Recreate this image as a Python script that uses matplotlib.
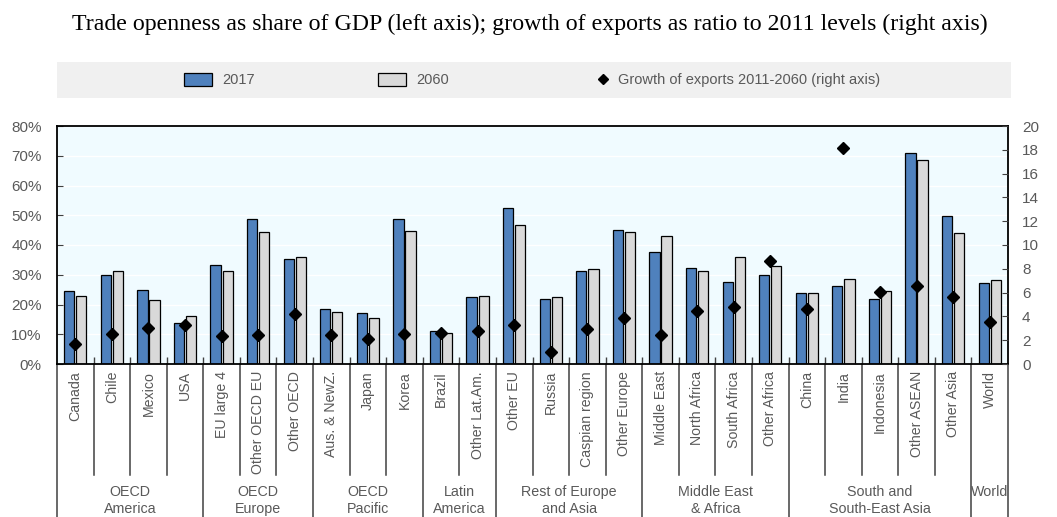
import numpy as np
import matplotlib
matplotlib.use("Agg")
import matplotlib.pyplot as plt
import matplotlib.transforms as mtransforms
from matplotlib.patches import Rectangle, Patch
from matplotlib.lines import Line2D

plt.rcParams['font.family'] = ['Liberation Sans Narrow', 'Liberation Sans', 'DejaVu Sans']

# Data
categories = ["Canada", "Chile", "Mexico", "USA",
              "EU large 4", "Other OECD EU", "Other OECD",
              "Aus. & NewZ.", "Japan", "Korea",
              "Brazil", "Other Lat.Am.",
              "Other EU", "Russia", "Caspian region", "Other Europe",
              "Middle East", "North Africa", "South Africa", "Other Africa",
              "China", "India", "Indonesia", "Other ASEAN", "Other Asia",
              "World"]
open_2017 = [24.4, 30.0, 24.9, 13.9,
             33.4, 48.6, 35.4,
             18.6, 17.2, 48.6,
             11.0, 22.4,
             52.5, 22.0, 31.1, 45.2,
             37.7, 32.4, 27.7, 30.0,
             23.9, 26.3, 22.0, 70.9, 49.6,
             27.2]
open_2060 = [22.9, 31.4, 21.5, 16.3,
             31.1, 44.3, 35.8,
             17.6, 15.3, 44.8,
             10.5, 22.9,
             46.8, 22.4, 32.0, 44.3,
             43.0, 31.1, 35.8, 32.9,
             23.9, 28.6, 24.4, 68.7, 43.9,
             28.2]
export_growth = [1.7, 2.55, 3.0, 3.25,
                 2.33, 2.44, 4.2,
                 2.44, 2.08, 2.55,
                 2.58, 2.8,
                 3.25, 1.0, 2.92, 3.87,
                 2.44, 4.49, 4.82, 8.64,
                 4.6, 18.15, 6.03, 6.59, 5.64,
                 3.51]
groups = ["OECD\nAmerica", "OECD\nEurope", "OECD\nPacific", "Latin\nAmerica",
          "Rest of Europe\nand Asia", "Middle East\n& Africa",
          "South and\nSouth-East Asia", "World"]
group_sizes = [4, 3, 3, 2, 4, 4, 5, 1]

TEXT = '#595959'
LINE = '#404040'

fig = plt.figure(figsize=(10.57, 5.17), dpi=100)
ax = fig.add_axes([57 / 1057, 153 / 517, 951 / 1057, 238 / 517])
ax.set_facecolor('#F0FBFF')

x = np.arange(len(categories))
w = 0.28
ax.bar(x - 0.165, open_2017, width=w, color='#4F81BD', edgecolor='black', linewidth=0.9, zorder=2)
ax.bar(x + 0.165, open_2060, width=w, color='#D9D9D9', edgecolor='black', linewidth=0.9, zorder=2)

ax.set_xlim(-0.5, len(categories) - 0.5)
ax.set_ylim(0, 80)
ax.set_yticks(np.arange(0, 81, 10))
ax.set_yticklabels([f"{v}%" for v in range(0, 81, 10)])
ax.yaxis.grid(True, color='white', lw=1.0)
ax.set_axisbelow(True)

ax.set_xticks(x)
ax.set_xticklabels(categories, rotation=90, color=TEXT, fontsize=10.2)
ax.tick_params(axis='x', which='major', length=0, pad=5)
bounds = np.arange(0.5, len(categories) - 0.5, 1.0)
ax.set_xticks(bounds, minor=True)
ax.tick_params(axis='x', which='minor', direction='in', length=5, color=LINE, width=1)
ax.tick_params(axis='y', direction='in', length=4, color=LINE, labelcolor=TEXT,
               labelsize=11, pad=11)
for s in ax.spines.values():
    s.set_linewidth(1.3)
    s.set_color('black')

ax2 = ax.twinx()
ax2.plot(x, export_growth, linestyle='none', marker='D', ms=6.5, color='black', zorder=5)
ax2.set_ylim(0, 20)
ax2.set_yticks(np.arange(0, 21, 2))
ax2.tick_params(axis='y', direction='in', length=4, color=LINE, labelcolor=TEXT,
                labelsize=11, pad=10)
for s in ax2.spines.values():
    s.set_visible(False)

# separators and group labels below the axis
trans = mtransforms.blended_transform_factory(ax.transData, ax.transAxes)
edges = np.concatenate([[0], np.cumsum(group_sizes)]) - 0.5
for b in bounds:
    if not np.any(np.isclose(edges, b)):
        ax.plot([b, b], [0, -0.466], transform=trans, clip_on=False, color=LINE, lw=1.1)
for b in edges:
    ax.plot([b, b], [0, -0.70], transform=trans, clip_on=False, color=LINE, lw=1.1)
for g, a, b in zip(groups, edges[:-1], edges[1:]):
    ax.text((a + b) / 2, -0.51, g, transform=trans, ha='center', va='top',
            color=TEXT, fontsize=10.3, linespacing=1.2)

# title
fig.text(530 / 1057, 1 - 24 / 517, "Trade openness as share of GDP (left axis); growth of exports as ratio to 2011 levels (right axis)",
         family='Liberation Serif', fontsize=17.2, ha='center', va='center', color='black')

# legend band
fig.patches.append(Rectangle((57 / 1057, 1 - 98 / 517), 954 / 1057, 36 / 517,
                             transform=fig.transFigure, facecolor='#F0F0F0', edgecolor='none', zorder=0))
legend_items = [
    (Patch(facecolor='#4F81BD', edgecolor='black', linewidth=0.9), "2017", 184 / 1057, 1.9),
    (Patch(facecolor='#D9D9D9', edgecolor='black', linewidth=0.9), "2060", 378 / 1057, 1.9),
    (Line2D([], [], linestyle='none', marker='D', ms=5, color='black'),
     "Growth of exports 2011-2060 (right axis)", 599 / 1057, 0.6),
]
for h, lab, xpos, hl in legend_items:
    leg = fig.legend([h], [lab], loc='center left', bbox_to_anchor=(xpos, 1 - 80 / 517),
                     frameon=False, fontsize=10.5, handlelength=hl, handleheight=1.0,
                     handletextpad=0.7, borderpad=0, borderaxespad=0)
    for t in leg.get_texts():
        t.set_color(TEXT)

fig.savefig("out.png", dpi=100)
